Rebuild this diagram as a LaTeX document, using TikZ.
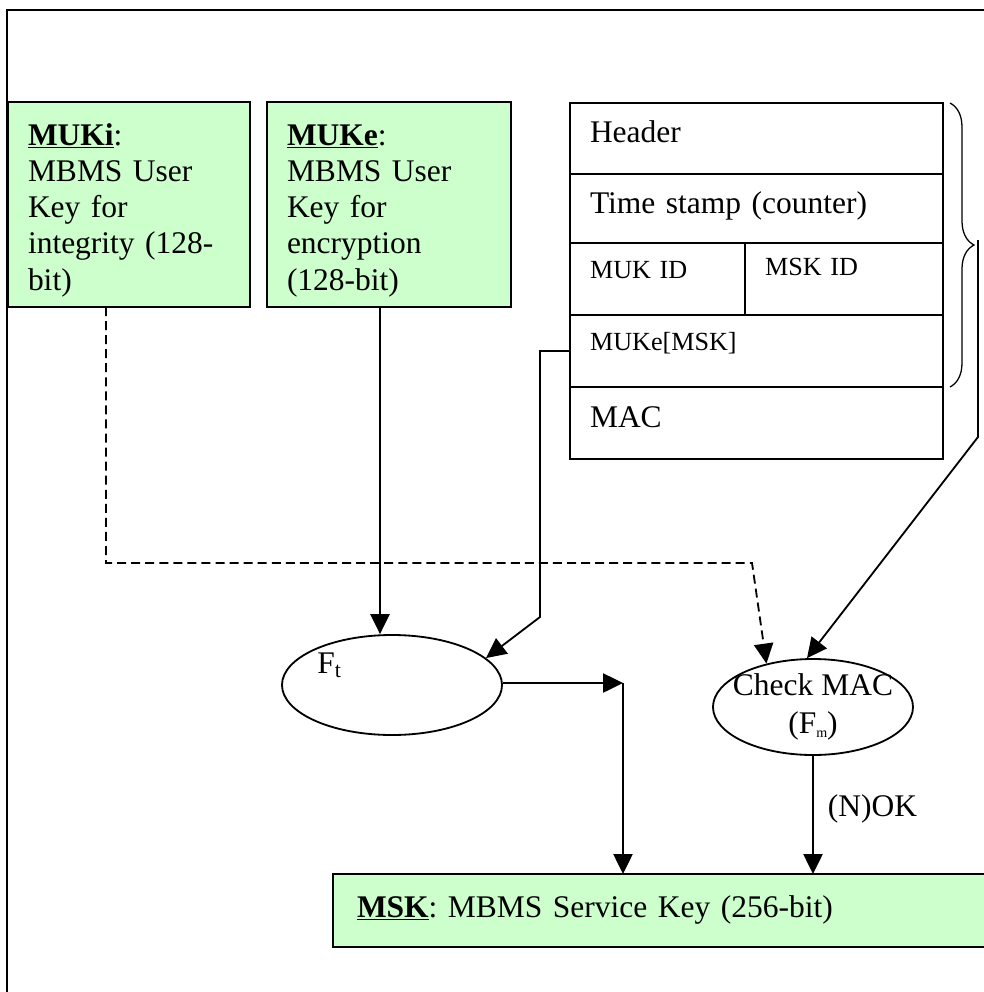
\documentclass[tikz,border=0pt]{standalone}
\usepackage{fontspec}
\setmainfont{Liberation Serif}
\usepackage{tikz}
\usetikzlibrary{arrows.meta,positioning,shapes.geometric,decorations.pathreplacing,calc}

\definecolor{keygreen}{HTML}{CCFFCC}
\newcommand{\keyname}[1]{\underline{\textbf{#1}}}
\frenchspacing

\begin{document}
\begin{tikzpicture}[
        x=0.25mm, y=-0.25mm,
        font=\fontsize{22.4}{25.8}\selectfont,
        keybox/.style = {draw, line width=1.4pt, fill=keygreen, anchor=north west,
                         inner xsep=0.5cm, inner ysep=0pt, outer sep=0pt, align=left},
        field/.style  = {draw, line width=1.1pt, anchor=north west,
                         inner xsep=0.5cm, inner ysep=0pt, outer sep=0pt, align=left},
        small/.style  = {font=\fontsize{18.6}{21}\selectfont},
        func/.style   = {draw, ellipse, line width=1.3pt, inner sep=0pt},
        arr/.style    = {-{Triangle[length=0.5cm, width=0.48cm]}, line width=1.3pt},
        darr/.style   = {arr, dash pattern=on 6.4pt off 3.6pt},
    ]
        \useasboundingbox (0,0) rectangle (984,992);
        \clip (0,0) rectangle (984,992);
        \draw[line width=1.6pt] (7,10) rectangle (1020,1020);

        % ---- keys ----
        \node[keybox, text width=5.05cm, text height=1.075cm, text depth=4.05cm]
            (muki) at (8,102) {\keyname{MUKi}:\\MBMS User\\Key for\\integrity (128-\\bit)};
        \node[keybox, text width=5.1cm, text height=1.075cm, text depth=4.05cm]
            (muke) at (267,102) {\keyname{MUKe}:\\MBMS User\\Key for\\encryption\\(128-bit)};
        \node[keybox, inner xsep=0.6cm, text width=15.8cm, text height=1.075cm, text depth=0.75cm]
            (msk) at (333,874) {\keyname{MSK}: MBMS Service Key (256-bit)};

        % ---- message fields ----
        \node[field, text width=8.325cm, text height=0.975cm, text depth=0.8cm]
            (hdr) at (570,103) {Header};
        \node[field, text width=8.325cm, text height=0.975cm, text depth=0.75cm]
            (ts) at (hdr.south west) {Time stamp (counter)};
        \node[field, small, text width=3.375cm, text height=0.875cm, text depth=0.925cm]
            (mukid) at (ts.south west) {MUK ID};
        \node[field, small, text width=3.95cm, text height=0.8cm, text depth=1.0cm]
            (mskid) at (mukid.north east) {MSK ID};
        \node[field, small, text width=8.325cm, text height=0.875cm, text depth=0.925cm]
            (mukemsk) at (mukid.south west) {MUKe[MSK]};
        \node[field, text width=8.325cm, text height=1.0cm, text depth=0.8cm]
            (mac) at (mukemsk.south west) {MAC};

        \draw[line width=0.9pt, decorate, decoration={brace, amplitude=0.6cm}]
            (950,103) -- (950,387);

        % ---- functions ----
        \node[func, minimum width=5.5cm, minimum height=2.5cm] (ft) at (392,685) {};
        \node[anchor=base west, inner sep=0pt] (ftlbl) at (317,673) {F\textsubscript{t}};
        \node[func, minimum width=5cm, minimum height=2.4cm] (ck) at (813,707) {};
        \node[align=center, inner sep=0pt] (cklbl) at (ck) {Check MAC\\[1pt]
            (F\raisebox{-0.3ex}{\fontsize{10}{10}\selectfont m})};

        % ---- bends ----
        \coordinate (mukiout) at ($(muki.south)+(-23,0)$);
        \coordinate (mukeout) at ($(muke.south)+(-9,0)$);
        \coordinate (dbend)   at (752,563);
        \coordinate (ebend)   at (540,617);
        \coordinate (brtip)   at (978,240);
        \coordinate (brbend)  at (978,437);
        \coordinate (junc)    at (623,683);

        % ---- connectors ----
        \draw[darr] (mukiout) |- (dbend) -- (ck.137);
        \draw[arr] (mukeout) -- (mukeout |- ft.north);
        \draw[arr] (mukemsk.west) -| (ebend) -- (ft.16);
        \draw[arr] (brtip) -- (brbend) -- (ck.97);
        \draw[arr] (ft.east |- junc) -- (junc);
        \draw[arr] (junc) -- (junc |- msk.north);
        \draw[arr] (ck.south) -- (ck.south |- msk.north)
            node[pos=0.45, right=0.35cm, inner sep=0pt] {(N)OK};
    \end{tikzpicture}
\end{document}
